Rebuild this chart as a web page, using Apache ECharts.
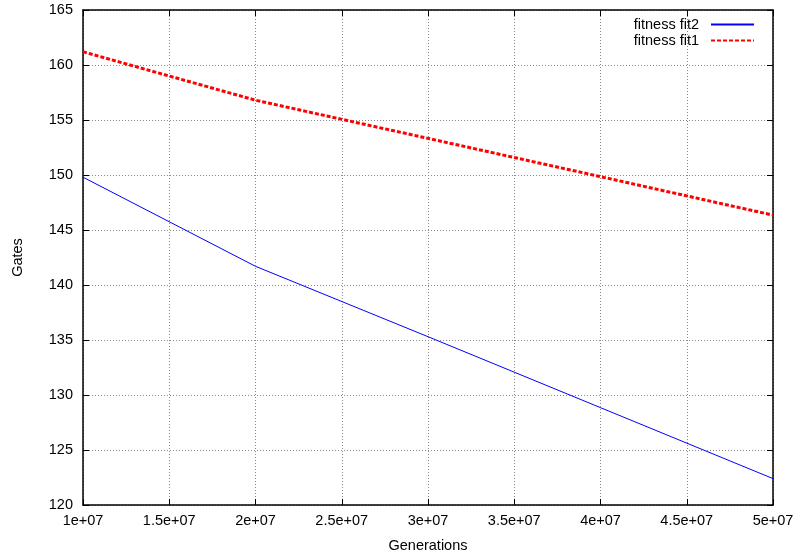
<!DOCTYPE html>
<html>
<head>
<meta charset="utf-8">
<script src="https://cdn.jsdelivr.net/npm/echarts@6/dist/echarts.min.js"></script>
<style>html,body{margin:0;padding:0;background:#fff}#c{width:797px;height:557px}</style>
</head>
<body>
<div id="c"></div>
<script>
const generations = [1e7, 2e7, 3e7, 4e7, 5e7];
const fit2 = [149.8, 141.7, 135.3, 128.85, 122.4];
const fit1 = [161.2, 156.8, 153.33, 149.85, 146.35];
const seriesNames = ['fitness fit2', 'fitness fit1'];
const xTitle = 'Generations';
const yTitle = 'Gates';

const font = 'Liberation Sans, Arial, Helvetica, sans-serif';
const fs = 14.5;
const chart = echarts.init(document.getElementById('c'), null, {renderer: 'canvas'});
const gridLine = {show: true, lineStyle: {color: '#888', type: [1, 2], width: 1}};
const axisLine = {show: true, lineStyle: {color: '#000', width: 1.5}};
const tick = {show: true, inside: true, length: 6, lineStyle: {color: '#000', width: 1}};
chart.setOption({
  animation: false,
  backgroundColor: '#fff',
  grid: {left: 83, right: 24, top: 10, bottom: 52, containLabel: false, outerBoundsMode: 'none'},
  legend: {
    right: 37, top: 12, orient: 'vertical', align: 'right',
    itemWidth: 43, itemHeight: 14, itemGap: 1,
    itemStyle: {opacity: 0},
    textStyle: {fontFamily: font, fontSize: fs, color: '#000', padding: [0, 7, 0, 0]},
    data: seriesNames
  },
  xAxis: [{
    type: 'value', min: 1e7, max: 5e7, interval: 5e6,
    name: xTitle, nameLocation: 'middle', nameGap: 33,
    nameTextStyle: {fontFamily: font, fontSize: fs, color: '#000'},
    axisLine: axisLine, axisTick: tick, splitLine: gridLine,
    axisLabel: {fontFamily: font, fontSize: fs, color: '#000', margin: 8,
      formatter: v => (v / 1e7) + 'e+07'}
  }, {
    type: 'value', min: 1e7, max: 5e7, interval: 5e6, position: 'top',
    axisLine: axisLine, axisTick: tick, splitLine: {show: false}, axisLabel: {show: false}
  }],
  yAxis: [{
    type: 'value', min: 120, max: 165, interval: 5,
    name: yTitle, nameLocation: 'middle', nameGap: 58, nameRotate: 90,
    nameTextStyle: {fontFamily: font, fontSize: fs, color: '#000'},
    axisLine: axisLine, axisTick: tick, splitLine: gridLine,
    axisLabel: {fontFamily: font, fontSize: fs, color: '#000', margin: 10}
  }, {
    type: 'value', min: 120, max: 165, interval: 5, position: 'right',
    axisLine: axisLine, axisTick: tick, splitLine: {show: false}, axisLabel: {show: false}
  }],
  series: [{
    name: seriesNames[0], type: 'line', symbol: 'none',
    data: generations.map((g, i) => [g, fit2[i]]),
    lineStyle: {color: '#0000ff', width: 1}, itemStyle: {color: '#0000ff'}
  }, {
    name: seriesNames[1], type: 'line', symbol: 'none',
    data: generations.map((g, i) => [g, fit1[i]]),
    lineStyle: {color: '#ff0000', width: 3, type: [4, 2]}, itemStyle: {color: '#ff0000'}
  }]
});
</script>
</body>
</html>
